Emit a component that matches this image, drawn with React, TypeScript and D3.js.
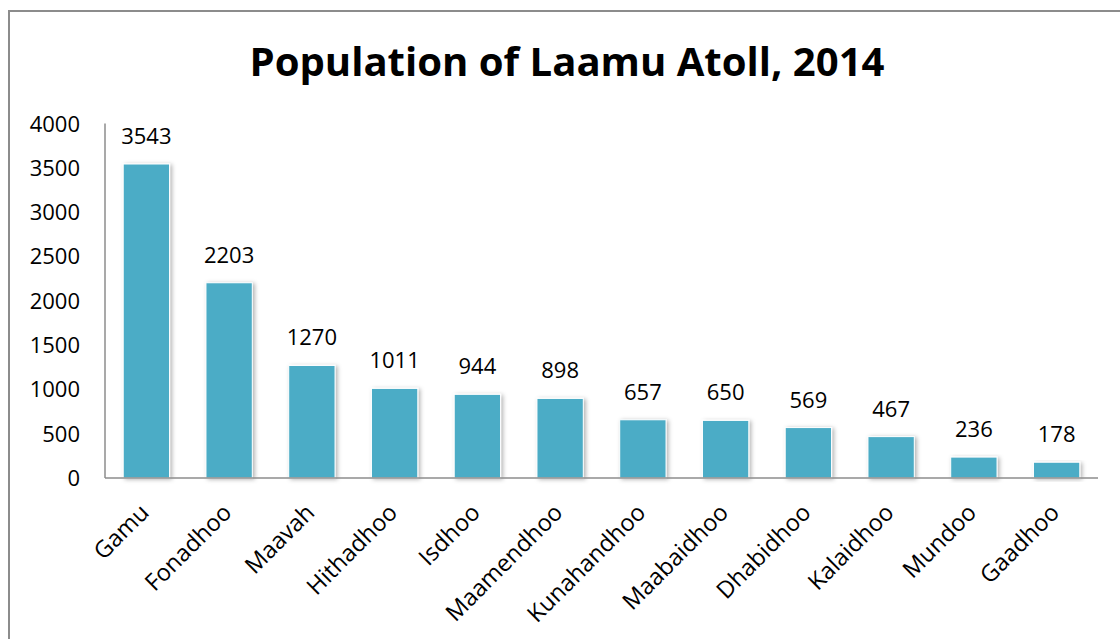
import React from "react";
import * as d3 from "d3";

const categories = ["Gamu", "Fonadhoo", "Maavah", "Hithadhoo", "Isdhoo", "Maamendhoo", "Kunahandhoo", "Maabaidhoo", "Dhabidhoo", "Kalaidhoo", "Mundoo", "Gaadhoo"];
const populations = [3543, 2203, 1270, 1011, 944, 898, 657, 650, 569, 467, 236, 178];
const yTicks = [0, 500, 1000, 1500, 2000, 2500, 3000, 3500, 4000];
const title = "Population of Laamu Atoll, 2014";

const W = 1120;
const H = 639;
const left = 105;
const right = 1098;
const top = 123.5;
const bottom = 478;
const font = "'Open Sans', 'Noto Sans', sans-serif";

export default function App() {
  const x = d3.scaleBand<string>().domain(categories).range([left, right]).paddingInner(0.44).paddingOuter(0.22);
  const y = d3.scaleLinear().domain([0, 4000]).range([bottom, top]);
  const bw = x.bandwidth();
  return (
    <svg width={W} height={H} style={{ position: "absolute", left: 0, top: 0, background: "#fff" }}>
      <defs>
        <filter id="sh" x="-30%" y="-10%" width="160%" height="130%">
          <feDropShadow dx="2" dy="1" stdDeviation="2.2" floodColor="#000" floodOpacity="0.3" />
        </filter>
      </defs>
      <rect x={0} y={0} width={W} height={H} fill="#fff" />
      <rect x={9} y={11} width={W + 20} height={H + 20} fill="none" stroke="#8c8c8c" strokeWidth={2} />
      <text x={567} y={76} textAnchor="middle" fontFamily={font} fontWeight="bold" fontSize={40} textLength={635} lengthAdjust="spacingAndGlyphs" fill="#000">
        {title}
      </text>
      {categories.map((c, i) => (
        <rect key={c} x={x(c)!} y={y(populations[i])} width={bw} height={bottom - y(populations[i])} fill="#4BACC6" stroke="#fff" strokeWidth={1} filter="url(#sh)" />
      ))}
      <line x1={left} x2={left} y1={top} y2={bottom} stroke="#8c8c8c" strokeWidth={1.5} />
      <line x1={left} x2={right} y1={bottom} y2={bottom} stroke="#8c8c8c" strokeWidth={1.5} />
      {yTicks.map((t) => (
        <text key={t} x={80} y={y(t) + 8} textAnchor="end" fontFamily={font} fontSize={22} fill="#000">
          {t}
        </text>
      ))}
      {categories.map((c, i) => (
        <text key={"v" + c} x={x(c)! + bw / 2} y={y(populations[i]) - 20} textAnchor="middle" fontFamily={font} fontSize={22} fill="#000">
          {populations[i]}
        </text>
      ))}
      {categories.map((c) => {
        const cx = x(c)! + bw / 2 + 4;
        const cy = bottom + 36;
        return (
          <text key={"l" + c} x={cx} y={cy} textAnchor="end" fontFamily={font} fontSize={23.5} fill="#000" transform={`rotate(-45 ${cx} ${cy})`}>
            {c}
          </text>
        );
      })}
    </svg>
  );
}
